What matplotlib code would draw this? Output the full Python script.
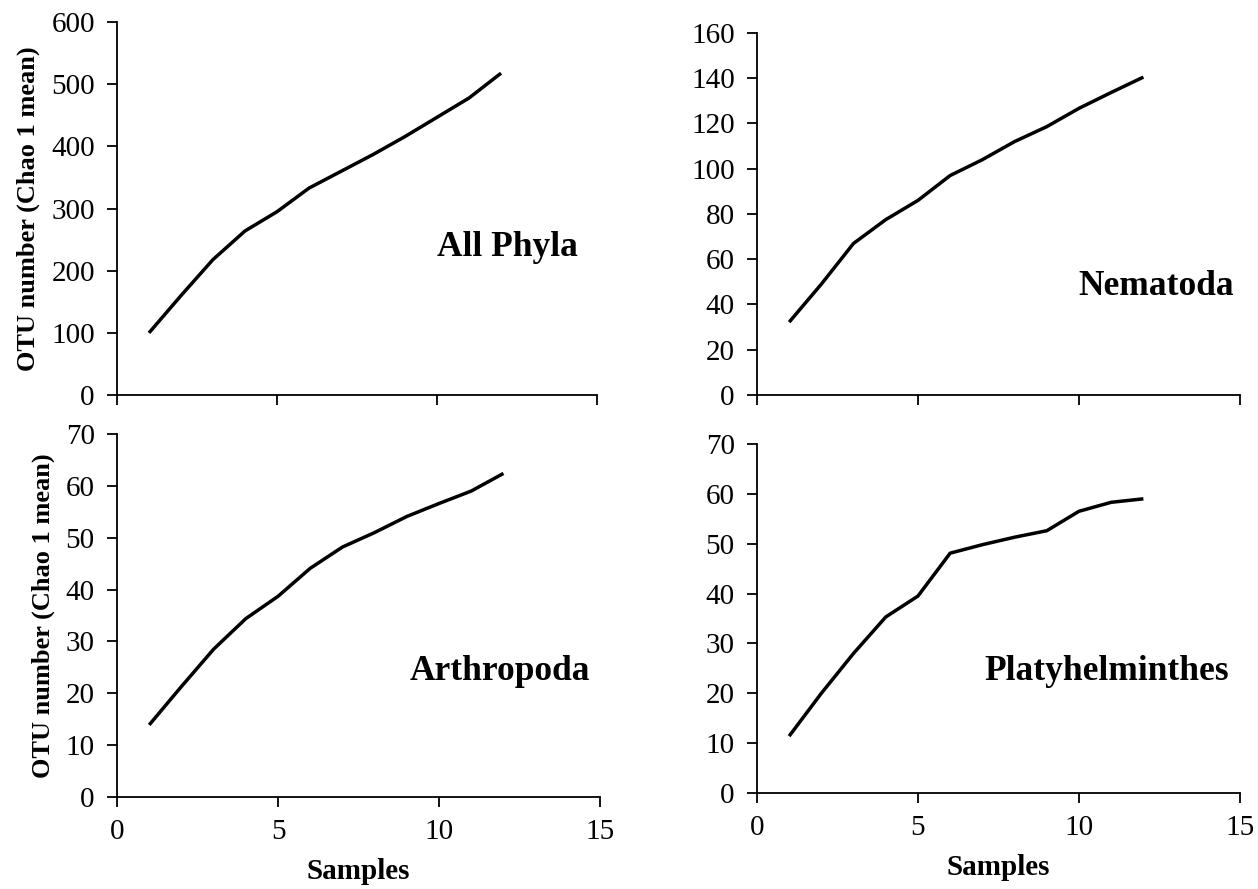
import matplotlib.pyplot as plt
import numpy as np

plt.rcParams['font.family'] = ['Liberation Serif', 'DejaVu Serif']

samples = [1, 2, 3, 4, 5, 6, 7, 8, 9, 10, 11, 12]
all_phyla = [100, 160, 218, 264, 295, 333, 360, 387, 416, 447, 478, 518]
nematoda = [32.2, 49, 67, 77.5, 86, 97, 104, 112, 118.6, 126.7, 133.7, 140.5]
arthropoda = [13.9, 21.3, 28.5, 34.4, 38.7, 44.1, 48.2, 51, 54.1, 56.6, 59, 62.4]
platyhelminthes = [11.4, 20, 28, 35.3, 39.5, 48.1, 49.8, 51.3, 52.6, 56.5, 58.3, 59]

panels = [
    # name, values, y max, y step, label baseline pos (data), axes rect
    ("All Phyla", all_phyla, 600, 100, (12.2, 224), [0.093, 0.5557, 0.3816, 0.4193]),
    ("Nematoda", nematoda, 160, 20, (12.4, 44.3), [0.6017, 0.5557, 0.3840, 0.4072]),
    ("Arthropoda", arthropoda, 70, 10, (11.9, 22.6), [0.093, 0.1035, 0.3840, 0.4083]),
    ("Platyhelminthes", platyhelminthes, 70, 10, (10.87, 22.6), [0.6017, 0.1080, 0.3840, 0.3926]),
]

fig = plt.figure(figsize=(12.58, 8.89), dpi=100)

for i, (name, vals, ymax, ystep, lpos, rect) in enumerate(panels):
    ax = fig.add_axes(rect)
    ax.plot(samples, vals, color='black', lw=2.5, solid_capstyle='butt')
    ax.set_xlim(0, 15)
    ax.set_ylim(0, ymax)
    ax.set_xticks([0, 5, 10, 15])
    ax.set_yticks(np.arange(0, ymax + 1, ystep))
    ax.spines['top'].set_visible(False)
    ax.spines['right'].set_visible(False)
    for s in ['left', 'bottom']:
        ax.spines[s].set_linewidth(1.3)
    ax.tick_params(direction='out', length=7, width=1.3, labelsize=21)
    ax.tick_params(axis='y', pad=9)
    ax.tick_params(axis='x', pad=9)
    if i < 2:
        ax.tick_params(axis='x', labelbottom=False)
    else:
        ax.set_xlabel("Samples", fontsize=21, fontweight='bold', labelpad=9)
    if i % 2 == 0:
        ax.set_ylabel("OTU number (Chao 1 mean)", fontsize=19, fontweight='bold', labelpad=8)
    ax.text(lpos[0], lpos[1], name, fontsize=25.5, fontweight='bold', ha='center', va='baseline')

plt.savefig("out.png", dpi=100)
